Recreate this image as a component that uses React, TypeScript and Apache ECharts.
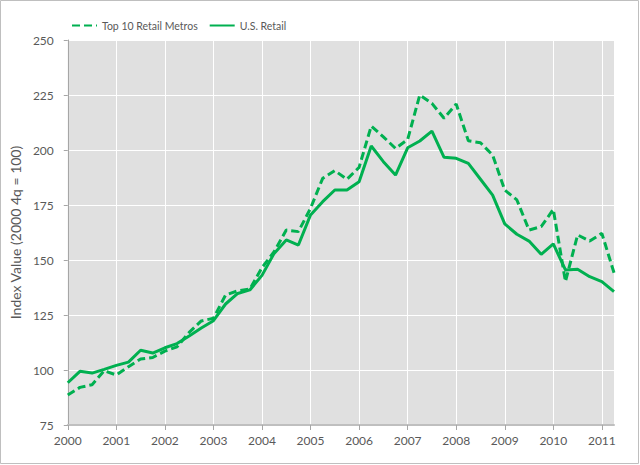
import React, { useEffect, useRef } from "react";
import * as echarts from "echarts";

const quarters = [
  2000, 2000.25, 2000.5, 2000.75,
  2001, 2001.25, 2001.5, 2001.75,
  2002, 2002.25, 2002.5, 2002.75,
  2003, 2003.25, 2003.5, 2003.75,
  2004, 2004.25, 2004.5, 2004.75,
  2005, 2005.25, 2005.5, 2005.75,
  2006, 2006.25, 2006.5, 2006.75,
  2007, 2007.25, 2007.5, 2007.75,
  2008, 2008.25, 2008.5, 2008.75,
  2009, 2009.25, 2009.5, 2009.75,
  2010, 2010.25, 2010.5, 2010.75,
  2011, 2011.25,
];

const top10Metros = [
  88.6, 92.1, 93.3, 99.7,
  97.7, 101.5, 105, 105.7,
  108.6, 110.5, 117.1, 122.3,
  123.5, 134.1, 136, 136.8,
  146.5, 153.8, 163.6, 162.9,
  173.5, 187.1, 190.6, 186.7,
  192.1, 210.9, 206, 200.7,
  204.8, 225, 221.2, 214.4,
  220.9, 204.2, 203.3, 197.7,
  181.8, 177.3, 163.6, 165.2,
  173, 140.2, 161.4, 158.6,
  162.1, 144.2,
];

const usRetail = [
  94.2, 99.4, 98.6, 100.3,
  102.1, 103.6, 109, 107.7,
  110.1, 112, 115.5, 119.1,
  122.4, 130, 134.8, 136.4,
  143, 153, 159.1, 156.8,
  170.5, 176.5, 181.8, 181.8,
  185.6, 201.8, 194.7, 188.6,
  201, 204.1, 208.6, 196.7,
  196.2, 193.9, 186.7, 179.5,
  166.4, 161.7, 158.6, 152.6,
  157.3, 145.5, 145.8, 142.4,
  140.2, 135.6,
];

const seriesNames = ["Top 10 Retail Metros", "U.S. Retail"];
const yAxisTitle = "Index Value (2000 4q = 100)";

const GREEN = "#00B050";
const TEXT = "#595959";
const FONT = "Lato, 'Open Sans', sans-serif";

export default function App() {
  const ref = useRef<HTMLDivElement>(null);

  useEffect(() => {
    if (!ref.current) return;
    const chart = echarts.init(ref.current, undefined, { renderer: "svg" });
    const pairs = (vals: number[]) => quarters.map((q, i) => [q, vals[i]]);
    chart.setOption({
      animation: false,
      backgroundColor: "#ffffff",
      textStyle: { fontFamily: FONT },
      graphic: [
        {
          type: "rect",
          shape: { x: 0.5, y: 0.5, width: 638, height: 463 },
          style: { fill: "none", stroke: "#BFBFBF", lineWidth: 1 },
          silent: true,
        },
      ],
      legend: {
        left: 66,
        top: 15,
        itemWidth: 25,
        itemHeight: 12,
        itemGap: 11,
        itemStyle: { opacity: 0 },
        textStyle: { color: TEXT, fontSize: 10.5, fontFamily: FONT },
        data: seriesNames,
      },
      grid: {
        left: 56,
        right: 26,
        top: 40,
        bottom: 40,
        show: true,
        backgroundColor: "#E0E0E0",
        borderWidth: 0,
      },
      xAxis: {
        type: "value",
        min: 2000,
        max: 2011.25,
        interval: 1,
        axisLine: { show: true, lineStyle: { color: "#BFBFBF", width: 2 } },
        axisTick: { show: true, length: 5, lineStyle: { color: "#A6A6A6" } },
        axisLabel: {
          color: TEXT,
          fontSize: 12,
          fontFamily: FONT,
          margin: 9,
          showMaxLabel: false,
          formatter: (v: number) => (Number.isInteger(v) ? String(v) : ""),
        },
        splitLine: { show: true, lineStyle: { color: "#ffffff", width: 1 } },
      },
      yAxis: {
        type: "value",
        min: 75,
        max: 250,
        interval: 25,
        name: yAxisTitle,
        nameLocation: "middle",
        nameGap: 44,
        nameTextStyle: { color: TEXT, fontSize: 14, fontFamily: FONT },
        axisLine: { show: true, lineStyle: { color: "#A6A6A6", width: 1 } },
        axisTick: { show: true, length: 4, lineStyle: { color: "#A6A6A6" } },
        axisLabel: { color: TEXT, fontSize: 12, fontFamily: FONT, margin: 14 },
        splitLine: { show: true, lineStyle: { color: "#ffffff", width: 1 } },
      },
      series: [
        {
          name: seriesNames[0],
          type: "line",
          data: pairs(top10Metros),
          symbol: "none",
          itemStyle: { color: GREEN },
          lineStyle: { color: GREEN, width: 3, type: [8, 4] },
        },
        {
          name: seriesNames[1],
          type: "line",
          data: pairs(usRetail),
          symbol: "none",
          itemStyle: { color: GREEN },
          lineStyle: { color: GREEN, width: 3 },
        },
      ],
    });
    return () => chart.dispose();
  }, []);

  return (
    <div
      ref={ref}
      style={{ position: "fixed", left: 0, top: 0, width: 640, height: 465 }}
    />
  );
}
